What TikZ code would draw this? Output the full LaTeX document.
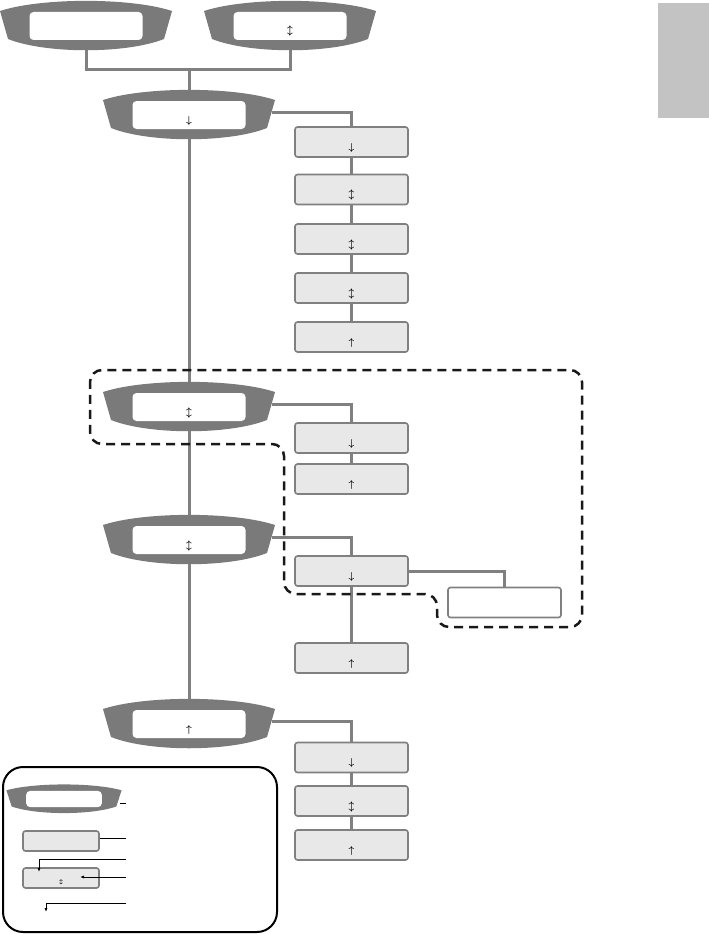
\documentclass[tikz,border=0pt]{standalone}
\usepackage{amsmath, amssymb}
\usepackage{tikz}
\usetikzlibrary{arrows.meta, positioning, calc}
\definecolor{dispGray}{HTML}{7A7A7A}
\definecolor{linkGray}{HTML}{808080}
\definecolor{boxFill}{HTML}{E8E8E8}
\definecolor{tabGray}{HTML}{C3C3C3}
\tikzset{
    dispWin/.style={rectangle, rounded corners=4pt, fill=white, inner sep=0pt, minimum width=113pt, minimum height=28pt, text height=16pt, text depth=0pt, font=\boldmath, transform shape},
    display/.pic={
        \fill[dispGray] (-86,-15) .. controls (-45,-28.5) and (45,-28.5) .. (86,-15) -- (78,13) .. controls (40,28) and (-40,28) .. (-78,13) -- cycle;
        \node[dispWin] (-win) at (0,0) {#1};
        \coordinate (-top) at (0,-25);
        \coordinate (-bot) at (0,24);
        \coordinate (-east) at (83,-3);
    },
    menuBox/.style={rectangle, rounded corners=2.5pt, draw=linkGray, line width=1.6pt, fill=boxFill, inner sep=0pt, minimum width=113pt, minimum height=30pt, text height=16pt, text depth=0pt, font=\boldmath},
    blankBox/.style={menuBox, fill=white},
    legBox/.style={menuBox, minimum width=76pt, minimum height=20pt, text height=11pt, font=\tiny\boldmath},
    link/.style={draw=linkGray, line width=3pt},
    groupDash/.style={draw=black!90, line width=2.5pt, dash pattern=on 9pt off 6pt, rounded corners=12pt},
    legFrame/.style={draw=black, line width=2pt, rounded corners=20pt},
    legLine/.style={draw=black, line width=0.8pt}
}

\begin{document}
\begin{tikzpicture}[x=1pt, y=-1pt, >={Latex[length=4pt, width=3pt]}]
        \useasboundingbox (0,0) rectangle (709,934);

        % Side tab
        \fill[tabGray] (658,3) rectangle (709,118);

        % 1. Displays
        \pic (D1) at (86,26)   {display={}};
        \pic (D2) at (290,26)  {display={$\updownarrow$}};
        \pic (D3) at (189,115) {display={$\downarrow$}};
        \pic (D4) at (189,407) {display={$\updownarrow$}};
        \pic (D5) at (189,540) {display={$\updownarrow$}};
        \pic (D6) at (189,724) {display={$\uparrow$}};

        % 2. Menu boxes
        \foreach \i/\y/\a in {1/142/\downarrow, 2/189.5/\updownarrow, 3/239/\updownarrow, 4/288/\updownarrow, 5/337/\uparrow}
            { \node[menuBox] (B3\i) at (351.5,\y) {$\a$}; }
        \node[menuBox] (B41) at (351.5,438) {$\downarrow$};
        \node[menuBox] (B42) at (351.5,479) {$\uparrow$};
        \node[menuBox] (B51) at (351.5,571) {$\downarrow$};
        \node[menuBox] (B52) at (351.5,658) {$\uparrow$};
        \node[blankBox] (W51) at (504.5,602.5) {};
        \node[menuBox] (B61) at (351.5,757.5) {$\downarrow$};
        \node[menuBox] (B62) at (351.5,801) {$\updownarrow$};
        \node[menuBox] (B63) at (351.5,845) {$\uparrow$};

        % 3. Connectors
        \coordinate (J0) at (189,70);
        \draw[link] (D1-bot) |- (J0) -| (D2-bot);
        \draw[link] (J0) -- (D3-top);
        \draw[link] (D3-bot) -- (D4-top);
        \draw[link] (D4-bot) -- (D5-top);
        \draw[link] (D5-bot) -- (D6-top);
        \draw[link] (D3-east) -| (B31.north);
        \foreach \i [count=\j from 2] in {1,...,4} { \draw[link] (B3\i.south) -- (B3\j.north); }
        \draw[link] (D4-east) -| (B41.north);
        \draw[link] (B41.south) -- (B42.north);
        \draw[link] (D5-east) -| (B51.north);
        \draw[link] (B51.east) -| (W51.north);
        \draw[link] (B51.south) -- (B52.north);
        \draw[link] (D6-east) -| (B61.north);
        \draw[link] (B61.south) -- (B62.north);
        \draw[link] (B62.south) -- (B63.north);

        % 4. Dashed group
        \draw[groupDash] (90,400) |- (582,370) |- (437,627) |- (284,594) |- (90,444) -- cycle;

        % 5. Legend
        \draw[legFrame] (3,767) rectangle (277,932);
        \pic[xscale=0.67, yscale=0.58] (L0) at (64,799) {display={}};
        \node[legBox] (L1) at (61,841) {};
        \node[legBox] (L2) at (61,878) {$\updownarrow$};
        \coordinate (K1) at (126,803);
        \coordinate (K2) at (126,838);
        \coordinate (K3) at (126,859);
        \coordinate (K4) at (126,877);
        \coordinate (K5) at (126,903);
        \coordinate (T3) at (39,872);
        \coordinate (T4) at (80,877);
        \coordinate (T5) at (46,912);
        \draw[legLine] (K1) -- (K1 -| L0-east);
        \draw[legLine] (K2) -- (L1.east |- K2);
        \draw[legLine, ->] (K3) -| (T3);
        \draw[legLine, ->] (K4) -- (T4);
        \draw[legLine, ->] (K5) -| (T5);

\end{tikzpicture}
\end{document}
